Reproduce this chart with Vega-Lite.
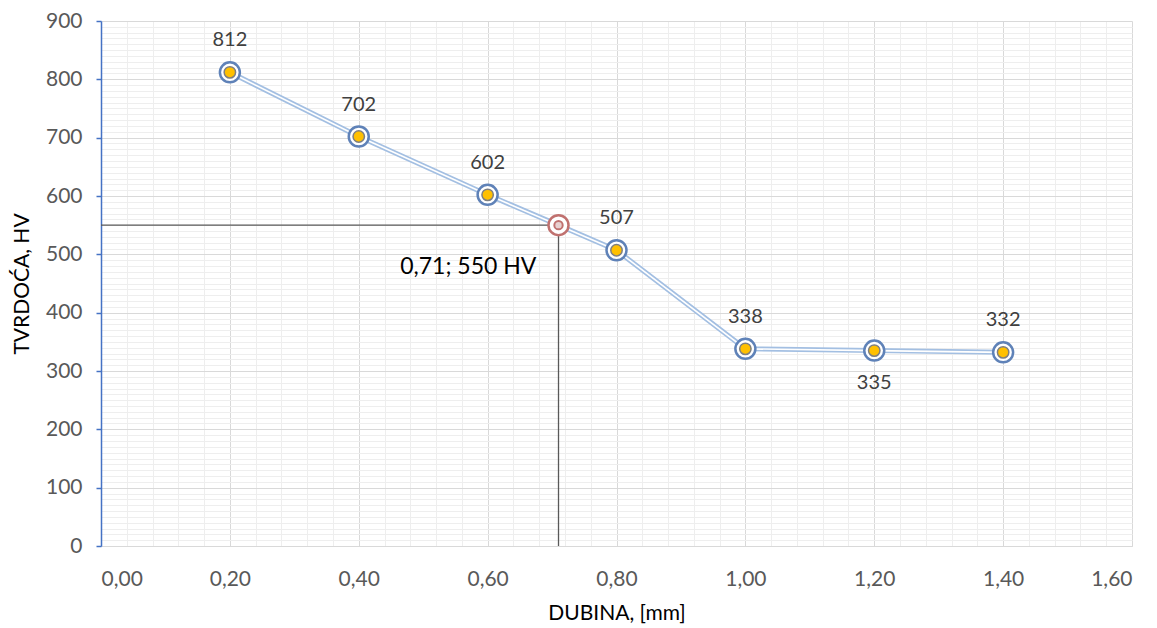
{
  "$schema": "https://vega.github.io/schema/vega-lite/v6.json",
  "width": 1031,
  "height": 525,
  "autosize": {"type": "none"},
  "padding": {"left": 101, "top": 21, "right": 25, "bottom": 82},
  "background": "white",
  "config": {
    "view": {"stroke": null},
    "font": "Lato"
  },
  "datasets": {
    "pts": [
      {"dubina": 0.2, "tvrdoca": 812, "pos": "above"},
      {"dubina": 0.4, "tvrdoca": 702, "pos": "above"},
      {"dubina": 0.6, "tvrdoca": 602, "pos": "above"},
      {"dubina": 0.8, "tvrdoca": 507, "pos": "above"},
      {"dubina": 1.0, "tvrdoca": 338, "pos": "above"},
      {"dubina": 1.2, "tvrdoca": 335, "pos": "below"},
      {"dubina": 1.4, "tvrdoca": 332, "pos": "above"}
    ],
    "line": [
      {"dubina": 0.2, "tvrdoca": 812},
      {"dubina": 0.4, "tvrdoca": 702},
      {"dubina": 0.6, "tvrdoca": 602},
      {"dubina": 0.71, "tvrdoca": 550},
      {"dubina": 0.8, "tvrdoca": 507},
      {"dubina": 1.0, "tvrdoca": 338},
      {"dubina": 1.2, "tvrdoca": 335},
      {"dubina": 1.4, "tvrdoca": 332}
    ],
    "ref": [{"dubina": 0.71, "tvrdoca": 550, "x0": 0, "y0": 0}],
    "note": [{"dubina": 0.57, "tvrdoca": 478, "label": "0,71; 550 HV"}]
  },
  "resolve": {"axis": {"x": "independent", "y": "independent"}},
  "layer": [
    {
      "data": {"name": "ref"},
      "mark": {"type": "point", "opacity": 0},
      "encoding": {
        "x": {"field": "dubina", "type": "quantitative",
          "scale": {"domain": [0, 1.6], "nice": false, "zero": false},
          "axis": {"orient": "bottom", "values": [0,0.04,0.08,0.12,0.16,0.24,0.28,0.32,0.36,0.44,0.48,0.52,0.56,0.64,0.68,0.72,0.76,0.84,0.88,0.92,0.96,1.04,1.08,1.12,1.16,1.24,1.28,1.32,1.36,1.44,1.48,1.52,1.56],
            "grid": true, "gridColor": "#eeeeee", "gridWidth": 1, "labels": false, "ticks": false, "domain": false, "title": null}},
        "y": {"field": "tvrdoca", "type": "quantitative",
          "scale": {"domain": [0, 900], "nice": false},
          "axis": {"orient": "left", "values": [10,20,30,40,50,60,70,80,90,110,120,130,140,150,160,170,180,190,210,220,230,240,250,260,270,280,290,310,320,330,340,350,360,370,380,390,410,420,430,440,450,460,470,480,490,510,520,530,540,550,560,570,580,590,610,620,630,640,650,660,670,680,690,710,720,730,740,750,760,770,780,790,810,820,830,840,850,860,870,880,890],
            "grid": true, "gridColor": "#eeeeee", "gridWidth": 1, "labels": false, "ticks": false, "domain": false, "title": null}}
      }
    },
    {
      "data": {"name": "ref"},
      "mark": {"type": "point", "opacity": 0},
      "encoding": {
        "x": {"field": "dubina", "type": "quantitative",
          "scale": {"domain": [0, 1.6], "nice": false, "zero": false},
          "axis": {"orient": "bottom", "values": [0,0.2,0.4,0.6,0.8,1.0,1.2,1.4,1.6],
            "grid": true, "gridColor": "#d9d9d9", "gridWidth": 1,
            "domain": true, "domainColor": "#d9d9d9", "ticks": false,
            "labelExpr": "replace(format(datum.value, '.2f'), '.', ',')",
            "labelFont": "Lato", "labelFontSize": 21, "labelColor": "#595959", "labelPadding": 22,
            "title": "DUBINA, [mm]", "titleFont": "Lato", "titleFontSize": 21, "titleFontWeight": "normal", "titleColor": "#000000", "titlePadding": 13}},
        "y": {"field": "tvrdoca", "type": "quantitative",
          "scale": {"domain": [0, 900], "nice": false},
          "axis": {"orient": "left", "values": [0,100,200,300,400,500,600,700,800,900],
            "grid": true, "gridColor": "#d9d9d9", "gridWidth": 1,
            "domain": true, "domainColor": "#4472c4", "domainWidth": 1.5,
            "ticks": true, "tickColor": "#4472c4", "tickSize": 5, "tickWidth": 1.5,
            "labelFont": "Lato", "labelFontSize": 21, "labelColor": "#595959", "labelPadding": 14,
            "title": "TVRDOĆA, HV", "titleFont": "Lato", "titleFontSize": 21, "titleFontWeight": "normal", "titleColor": "#000000", "titlePadding": 13}}
      }
    },
    {
      "data": {"name": "ref"},
      "mark": {"type": "rule", "color": "#595959", "strokeWidth": 1.3},
      "encoding": {
        "x": {"field": "x0", "type": "quantitative", "axis": null},
        "x2": {"field": "dubina"},
        "y": {"field": "tvrdoca", "type": "quantitative", "axis": null}
      }
    },
    {
      "data": {"name": "ref"},
      "mark": {"type": "rule", "color": "#595959", "strokeWidth": 1.3},
      "encoding": {
        "x": {"field": "dubina", "type": "quantitative", "axis": null},
        "y": {"field": "y0", "type": "quantitative", "axis": null},
        "y2": {"field": "tvrdoca"}
      }
    },
    {
      "data": {"name": "line"},
      "mark": {"type": "line", "color": "#a3bfe2", "strokeWidth": 5},
      "encoding": {
        "x": {"field": "dubina", "type": "quantitative", "axis": null},
        "y": {"field": "tvrdoca", "type": "quantitative", "axis": null}
      }
    },
    {
      "data": {"name": "line"},
      "mark": {"type": "line", "color": "#ffffff", "strokeWidth": 1.6},
      "encoding": {
        "x": {"field": "dubina", "type": "quantitative", "axis": null},
        "y": {"field": "tvrdoca", "type": "quantitative", "axis": null}
      }
    },
    {
      "data": {"name": "pts"},
      "mark": {"type": "point", "shape": "circle", "filled": true, "fill": "#ffffff", "stroke": "#5f82b8", "strokeWidth": 2.5, "size": 400, "opacity": 1},
      "encoding": {
        "x": {"field": "dubina", "type": "quantitative", "axis": null},
        "y": {"field": "tvrdoca", "type": "quantitative", "axis": null}
      }
    },
    {
      "data": {"name": "pts"},
      "mark": {"type": "point", "shape": "circle", "filled": true, "fill": "#ffc000", "stroke": "#7f7f7f", "strokeWidth": 1.5, "size": 130, "opacity": 1},
      "encoding": {
        "x": {"field": "dubina", "type": "quantitative", "axis": null},
        "y": {"field": "tvrdoca", "type": "quantitative", "axis": null}
      }
    },
    {
      "data": {"name": "ref"},
      "mark": {"type": "point", "shape": "circle", "filled": true, "fill": "#ffffff", "stroke": "#c0716f", "strokeWidth": 2.5, "size": 400, "opacity": 1},
      "encoding": {
        "x": {"field": "dubina", "type": "quantitative", "axis": null},
        "y": {"field": "tvrdoca", "type": "quantitative", "axis": null}
      }
    },
    {
      "data": {"name": "ref"},
      "mark": {"type": "point", "shape": "circle", "filled": true, "fill": "#e8d0d0", "stroke": "#c0716f", "strokeWidth": 2, "size": 70, "opacity": 1},
      "encoding": {
        "x": {"field": "dubina", "type": "quantitative", "axis": null},
        "y": {"field": "tvrdoca", "type": "quantitative", "axis": null}
      }
    },
    {
      "data": {"name": "pts"},
      "transform": [{"filter": "datum.pos === 'above'"}],
      "mark": {"type": "text", "font": "Lato", "fontSize": 20, "color": "#404040", "baseline": "middle", "dy": -32},
      "encoding": {
        "x": {"field": "dubina", "type": "quantitative", "axis": null},
        "y": {"field": "tvrdoca", "type": "quantitative", "axis": null},
        "text": {"field": "tvrdoca", "type": "quantitative", "format": "d"}
      }
    },
    {
      "data": {"name": "pts"},
      "transform": [{"filter": "datum.pos === 'below'"}],
      "mark": {"type": "text", "font": "Lato", "fontSize": 20, "color": "#404040", "baseline": "middle", "dy": 32},
      "encoding": {
        "x": {"field": "dubina", "type": "quantitative", "axis": null},
        "y": {"field": "tvrdoca", "type": "quantitative", "axis": null},
        "text": {"field": "tvrdoca", "type": "quantitative", "format": "d"}
      }
    },
    {
      "data": {"name": "note"},
      "mark": {"type": "text", "font": "Lato", "fontSize": 23, "color": "#000000", "baseline": "middle", "align": "center"},
      "encoding": {
        "x": {"field": "dubina", "type": "quantitative", "axis": null},
        "y": {"field": "tvrdoca", "type": "quantitative", "axis": null},
        "text": {"field": "label", "type": "nominal"}
      }
    }
  ]
}
